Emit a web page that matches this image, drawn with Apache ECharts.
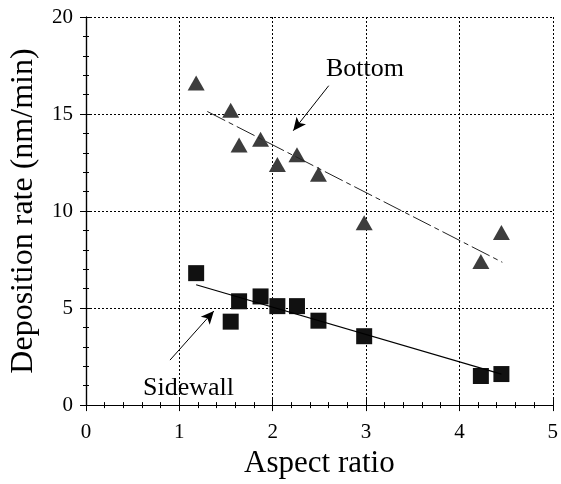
<!DOCTYPE html>
<html>
<head>
<meta charset="utf-8">
<script src="https://cdn.jsdelivr.net/npm/echarts@6/dist/echarts.min.js"></script>
<style>
  html, body { margin: 0; padding: 0; background: #fff; }
  #chart { width: 561px; height: 484px; }
</style>
</head>
<body>
<div id="chart"></div>
<script>
// measured points
const aspectRatio = [1.18, 1.55, 1.64, 1.87, 2.05, 2.26, 2.49, 2.98, 4.23, 4.45];
const bottomRate = [16.6, 15.2, 13.4, 13.7, 12.4, 12.9, 11.9, 9.4, 7.4, 8.9];
const sidewallRate = [6.8, 4.3, 5.35, 5.6, 5.1, 5.1, 4.35, 3.55, 1.5, 1.6];

// fitted lines (end points)
const bottomFitX = [1.3, 4.46];
const bottomFitY = [15.13, 7.36];
const sidewallFitX = [1.18, 4.45];
const sidewallFitY = [6.2, 1.6];

// annotation arrows [tail, head]
const bottomArrow = [[2.60, 16.46], [2.22, 14.14]];
const sidewallArrow = [[0.90, 2.32], [1.37, 4.85]];

const serif = "'Liberation Serif', 'DejaVu Serif', serif";

const pairs = (xs, ys) => xs.map((x, i) => [x, ys[i]]);

const chart = echarts.init(document.getElementById('chart'));

const gridLine = { show: true, lineStyle: { color: '#000', width: 1, type: [2, 2] } };
const axisLine = { show: true, lineStyle: { color: '#000', width: 1.2 } };
const tick = { show: true, inside: true, length: 6, lineStyle: { color: '#000' } };
const minor = { show: true, splitNumber: 5, length: 3, lineStyle: { color: '#000' } };

const arrowLine = (arr) => ({
    silent: true,
    symbol: ['none', 'arrow'],
    symbolSize: [9, 13],
    lineStyle: { color: '#000', width: 1, type: 'solid' },
    label: { show: false },
    data: [[{ coord: arr[0] }, { coord: arr[1] }]]
});

const option = {
    animation: false,
    backgroundColor: '#fff',
    grid: { left: 86, right: 4, top: 17, bottom: 71 },
    xAxis: [
        {
            type: 'value', min: 0, max: 5, interval: 1,
            name: 'Aspect ratio', nameLocation: 'middle', nameGap: 42,
            nameTextStyle: { fontFamily: serif, fontSize: 31, color: '#000' },
            axisLine, axisTick: tick, minorTick: minor, splitLine: gridLine,
            axisLabel: { fontFamily: serif, fontSize: 21, color: '#000', margin: 17 }
        },
        {
            type: 'value', min: 0, max: 5, interval: 1, position: 'top',
            axisLine, axisTick: tick, minorTick: minor,
            splitLine: { show: false }, axisLabel: { show: false }
        }
    ],
    yAxis: [
        {
            type: 'value', min: 0, max: 20, interval: 5,
            name: 'Deposition rate (nm/min)', nameLocation: 'middle', nameGap: 46,
            nameTextStyle: { fontFamily: serif, fontSize: 32, color: '#000' },
            axisLine, axisTick: tick, minorTick: minor, splitLine: gridLine,
            axisLabel: { fontFamily: serif, fontSize: 21, color: '#000', margin: 13 }
        },
        {
            type: 'value', min: 0, max: 20, interval: 5, position: 'right',
            axisLine, axisTick: tick, minorTick: minor,
            splitLine: { show: false }, axisLabel: { show: false }
        }
    ],
    series: [
        {
            name: 'Bottom fit', type: 'line', data: pairs(bottomFitX, bottomFitY),
            symbol: 'none', lineStyle: { color: '#222', width: 1, type: [20, 4, 5, 4] },
            markLine: arrowLine(bottomArrow)
        },
        {
            name: 'Sidewall fit', type: 'line', data: pairs(sidewallFitX, sidewallFitY),
            symbol: 'none', lineStyle: { color: '#000', width: 1.2 },
            markLine: arrowLine(sidewallArrow)
        },
        {
            name: 'Bottom', type: 'scatter', data: pairs(aspectRatio, bottomRate),
            symbol: 'triangle', symbolSize: [17, 15],
            itemStyle: { color: '#3d3d3d', opacity: 1 }
        },
        {
            name: 'Sidewall', type: 'scatter', data: pairs(aspectRatio, sidewallRate),
            symbol: 'rect', symbolSize: 16,
            itemStyle: { color: '#111', opacity: 1 }
        }
    ],
    graphic: [
        {
            type: 'text', left: 326, top: 56,
            style: { text: 'Bottom', font: '26px ' + serif, fill: '#000' }
        },
        {
            type: 'text', left: 143, top: 375,
            style: { text: 'Sidewall', font: '26px ' + serif, fill: '#000' }
        }
    ]
};

chart.setOption(option);
</script>
</body>
</html>
